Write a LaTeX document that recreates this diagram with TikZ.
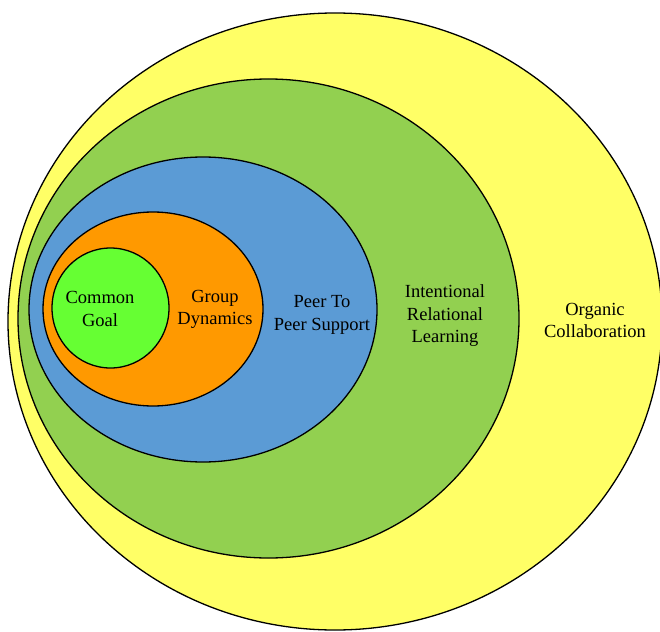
\documentclass[tikz,border=0pt]{standalone}
\usepackage{fontspec}
\setmainfont{Liberation Serif}
\definecolor{ringyellow}{HTML}{FFFF66}
\definecolor{ringgreen}{HTML}{92D050}
\definecolor{ringblue}{HTML}{5B9BD5}
\definecolor{ringorange}{HTML}{FF9900}
\definecolor{ringlime}{HTML}{66FF33}
\begin{document}
\begin{tikzpicture}[x=1pt,y=-1pt,
  ring/.style={draw=black,line width=1.3pt},
  lbl/.style={align=center,font=\fontsize{18.5}{22.5}\selectfont,inner sep=0pt}]
\useasboundingbox (0,0) rectangle (660,631);
\clip (0,0) rectangle (660,631);
% nested layers, outermost first
\filldraw[ring,fill=ringyellow] (335,321.5) ellipse [x radius=327,y radius=308.5];
\filldraw[ring,fill=ringgreen]  (268.5,318.5) ellipse [x radius=250.5,y radius=239.5];
\filldraw[ring,fill=ringblue]   (203,309.5) ellipse [x radius=174,y radius=152.5];
\filldraw[ring,fill=ringorange] (153,309) ellipse [x radius=110,y radius=97];
\filldraw[ring,fill=ringlime]   (110.5,308) ellipse [x radius=58.5,y radius=60];
% layer labels
\node[lbl] (goal)    at (100,309)   {Common\\Goal};
\node[lbl] (group)   at (215,309.5) {Group\\Dynamics};
\node[lbl] (peer)    at (322,315)   {Peer To\\Peer Support};
\node[lbl] (intent)  at (445,316)   {Intentional\\Relational\\Learning};
\node[lbl] (organic) at (595,320.5) {Organic\\Collaboration};
\end{tikzpicture}
\end{document}
